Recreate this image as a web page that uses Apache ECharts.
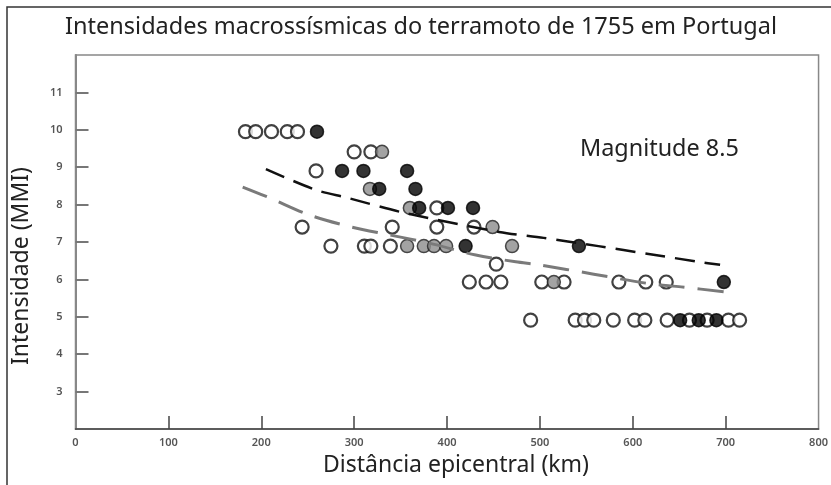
<!DOCTYPE html>
<html>
<head>
<meta charset="utf-8">
<script src="https://cdn.jsdelivr.net/npm/echarts@6/dist/echarts.min.js"></script>
<style>
html, body { margin: 0; padding: 0; background: #fff; }
#chart { width: 831px; height: 485px; }
</style>
</head>
<body>
<div id="chart"></div>
<script>
// eixos
var xLabels = [0, 100, 200, 300, 400, 500, 600, 700, 800];
var xTicks = [100, 200, 300, 400, 500, 600, 700];
var yTicks = [3, 4, 5, 6, 7, 8, 9, 10, 11];

// pontos abertos (distância km, intensidade)
var openDist = [183, 194, 211, 228, 239, 259, 300, 318, 389, 244, 341, 389, 429, 275, 311, 318, 339, 453,
    424, 442, 458, 502, 526, 585, 614, 636, 490, 538, 548, 558, 579, 602, 613, 637, 661, 680, 703, 715];
var openInt = [9.95, 9.95, 9.95, 9.95, 9.95, 8.9, 9.41, 9.41, 7.91, 7.4, 7.4, 7.4, 7.4, 6.89, 6.89, 6.89, 6.89, 6.41,
    5.93, 5.93, 5.93, 5.93, 5.93, 5.93, 5.93, 5.93, 4.91, 4.91, 4.91, 4.91, 4.91, 4.91, 4.91, 4.91, 4.91, 4.91, 4.91, 4.91];

// pontos cinzentos
var grayDist = [330, 317, 360, 449, 357, 375, 386, 399, 470, 515];
var grayInt = [9.41, 8.42, 7.91, 7.4, 6.89, 6.89, 6.89, 6.89, 6.89, 5.93];

// pontos pretos
var blackDist = [260, 287, 310, 357, 327, 366, 370, 401, 428, 420, 542, 698, 651, 671, 690];
var blackInt = [9.95, 8.9, 8.9, 8.9, 8.42, 8.42, 7.91, 7.91, 7.91, 6.89, 6.89, 5.93, 4.91, 4.91, 4.91];

// curvas de atenuação
var blackLineDist = [205, 259, 293, 354, 456, 504, 563, 617, 671, 694];
var blackLineInt = [8.95, 8.39, 8.18, 7.78, 7.27, 7.11, 6.89, 6.68, 6.47, 6.39];
var grayLineDist = [180, 209, 252, 297, 338, 381, 431, 474, 499, 558, 614, 652, 701];
var grayLineInt = [8.47, 8.18, 7.72, 7.4, 7.19, 6.97, 6.65, 6.47, 6.39, 6.14, 5.9, 5.8, 5.66];

function pairs(xs, ys) {
    var out = [];
    for (var i = 0; i < xs.length; i++) {
        out.push([xs[i], ys[i]]);
    }
    return out;
}

var font = '"Noto Sans", "Open Sans", sans-serif';
var myChart = echarts.init(document.getElementById('chart'), null, {renderer: 'canvas'});

myChart.setOption({
    animation: false,
    backgroundColor: '#fff',
    graphic: [
        {
            type: 'rect',
            shape: {x: 7, y: 7, width: 900, height: 900},
            style: {fill: 'none', stroke: '#333', lineWidth: 1.5},
            z: 0
        },
        {
            type: 'text',
            x: 421,
            y: 27,
            style: {
                text: 'Intensidades macrossísmicas do terramoto de 1755 em Portugal',
                font: '23.5px ' + font,
                fill: '#222',
                align: 'center',
                verticalAlign: 'middle'
            }
        },
        {
            type: 'text',
            x: 580,
            y: 149,
            style: {text: 'Magnitude 8.5', font: '23.4px ' + font, fill: '#222', verticalAlign: 'middle'}
        },
        {
            type: 'text',
            x: 456,
            y: 465,
            style: {text: 'Distância epicentral (km)', font: '23px ' + font, fill: '#222', align: 'center', verticalAlign: 'middle'}
        },
        {
            type: 'text',
            x: 21,
            y: 266,
            rotation: Math.PI / 2,
            style: {text: 'Intensidade (MMI)', font: '23px ' + font, fill: '#222', align: 'center', verticalAlign: 'middle'}
        }
    ],
    grid: {
        left: 75.5,
        right: 10.5,
        top: 55,
        bottom: 56,
        show: true,
        borderColor: '#888',
        borderWidth: 1.5
    },
    xAxis: {
        type: 'value',
        min: 0,
        max: 800,
        interval: 100,
        axisLine: {lineStyle: {color: '#444', width: 1.5}},
        axisTick: {inside: true, length: 13, customValues: xTicks, lineStyle: {color: '#444', width: 1.5}},
        axisLabel: {customValues: xLabels, margin: 8, fontFamily: font, fontSize: 11, fontWeight: 600, color: '#555'},
        splitLine: {show: false}
    },
    yAxis: {
        type: 'value',
        min: 2,
        max: 12,
        interval: 1,
        axisLine: {lineStyle: {color: '#888', width: 2}},
        axisTick: {inside: true, length: 13, customValues: yTicks, lineStyle: {color: '#777', width: 2}},
        axisLabel: {customValues: yTicks, margin: 13, fontFamily: font, fontSize: 11, fontWeight: 600, color: '#555'},
        splitLine: {show: false}
    },
    series: [
        {
            type: 'scatter',
            data: pairs(openDist, openInt),
            symbol: 'circle',
            symbolSize: 13,
            itemStyle: {color: '#fff', borderColor: '#111', borderWidth: 2.2},
            z: 2
        },
        {
            type: 'scatter',
            data: pairs(grayDist, grayInt),
            symbol: 'circle',
            symbolSize: 13,
            itemStyle: {color: '#8c8c8c', borderColor: '#222', borderWidth: 1.5},
            z: 3
        },
        {
            type: 'scatter',
            data: pairs(blackDist, blackInt),
            symbol: 'circle',
            symbolSize: 13,
            itemStyle: {color: '#000', borderColor: '#000', borderWidth: 1.5},
            z: 4
        },
        {
            type: 'line',
            data: pairs(grayLineDist, grayLineInt),
            smooth: 0.3,
            showSymbol: false,
            lineStyle: {color: '#7a7a7a', width: 3, type: [26, 13]},
            z: 5
        },
        {
            type: 'line',
            data: pairs(blackLineDist, blackLineInt),
            smooth: 0.3,
            showSymbol: false,
            lineStyle: {color: '#111', width: 2.5, type: [20, 10]},
            z: 6
        }
    ]
});
</script>
</body>
</html>
